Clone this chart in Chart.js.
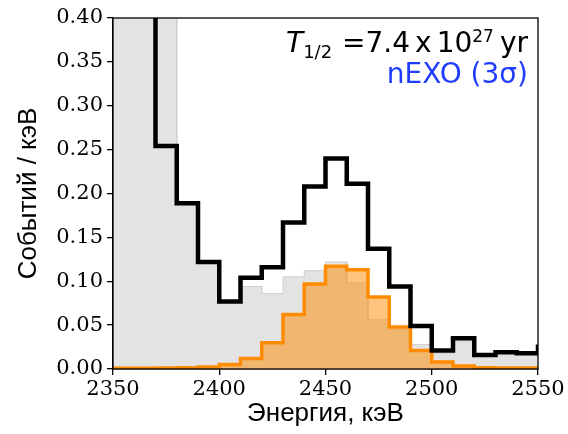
<!DOCTYPE html>
<html lang="ru">
<head>
<meta charset="UTF-8">
<title>Спектр событий</title>
<style>
  body { margin: 0; background: #fff; }
  #wrap { width: 568px; height: 434px; }
</style>
</head>
<body>
<div id="wrap"><canvas id="chart" width="568" height="434"></canvas></div>
<script src="https://cdn.jsdelivr.net/npm/chart.js"></script>
<script>
// границы бинов по 10 кэВ
const edges = [2350, 2360, 2370, 2380, 2390, 2400, 2410, 2420, 2430, 2440, 2450,
               2460, 2470, 2480, 2490, 2500, 2510, 2520, 2530, 2540, 2550, 2560];

// суммарный спектр (фон + сигнал), события / кэВ
const total = [0.9, 0.9, 0.254, 0.189, 0.122, 0.077, 0.104, 0.116, 0.167, 0.208, 0.240,
               0.211, 0.137, 0.094, 0.049, 0.021, 0.035, 0.016, 0.019, 0.018, 0.028];

// фон
const background = [0.6, 0.6, 0.6, 0.189, 0.122, 0.077, 0.094, 0.086, 0.105, 0.112, 0.122,
                    0.098, 0.056, 0.045, 0.028, 0.018, 0.032, 0.015, 0.018, 0.018, 0.018];

// сигнал 0νββ
const signal = [0.0008, 0.0008, 0.001, 0.0015, 0.0022, 0.005, 0.012, 0.030, 0.062, 0.097, 0.117,
                0.113, 0.082, 0.048, 0.021, 0.008, 0.0034, 0.0015, 0.001, 0.001, 0.001];

const yTicks = [0, 0.05, 0.10, 0.15, 0.20, 0.25, 0.30, 0.35, 0.40];
const xTicks = [2350, 2400, 2450, 2500, 2550];

// гистограмма -> ступенчатая линия
function steps(vals) {
  const pts = [];
  vals.forEach((v, i) => {
    pts.push({ x: edges[i], y: v });
    pts.push({ x: edges[i + 1], y: v });
  });
  return pts;
}

// рамка вокруг области графика и подпись
const frameAndLabel = {
  id: 'frameAndLabel',
  afterDatasetsDraw(chart) {
    const { ctx, chartArea: a } = chart;
    ctx.save();
    ctx.strokeStyle = '#000';
    ctx.lineWidth = 1.3;
    ctx.strokeRect(a.left, a.top, a.right - a.left, a.bottom - a.top);

    const big = '28px "DejaVu Sans"';
    const small = '18px "DejaVu Sans"';
    const sup = '17px "DejaVu Sans"';
    // текст, шрифт, сдвиг базовой линии, отступ после
    const parts = [
      { t: 'T', f: 'italic ' + big, dy: 0, gap: 0 },
      { t: '1/2', f: small, dy: 6, gap: 10 },
      { t: '=', f: big, dy: 0, gap: 0 },
      { t: '7.4', f: big, dy: 0, gap: 5 },
      { t: 'x', f: big, dy: 0, gap: 5 },
      { t: '10', f: big, dy: 0, gap: 0 },
      { t: '27', f: sup, dy: -10, gap: 6 },
      { t: 'yr', f: big, dy: 0, gap: 0 }
    ];
    let w = 0;
    parts.forEach(p => { ctx.font = p.f; p.w = ctx.measureText(p.t).width; w += p.w + p.gap; });
    let x = a.right - 10 - w;
    ctx.fillStyle = '#000';
    ctx.textBaseline = 'alphabetic';
    ctx.textAlign = 'left';
    parts.forEach(p => {
      ctx.font = p.f;
      ctx.fillText(p.t, x, 52 + p.dy);
      x += p.w + p.gap;
    });

    ctx.font = '28px "DejaVu Sans"';
    ctx.fillStyle = '#1f3cff';
    ctx.textAlign = 'right';
    ctx.fillText('nEXO (3σ)', a.right - 10, 83);
    ctx.restore();
  }
};

new Chart(document.getElementById('chart'), {
  type: 'line',
  data: {
    datasets: [
      {
        data: steps(total),
        borderColor: '#000',
        borderWidth: 4.5,
        fill: false,
        pointRadius: 0,
        order: 0
      },
      {
        data: steps(signal),
        borderColor: '#ff8c00',
        backgroundColor: 'rgba(255,140,0,0.5)',
        borderWidth: 3.5,
        fill: 'origin',
        pointRadius: 0,
        order: 1
      },
      {
        data: steps(background),
        borderColor: '#cfcfcf',
        backgroundColor: '#e3e3e3',
        borderWidth: 1,
        fill: 'origin',
        pointRadius: 0,
        order: 2
      }
    ]
  },
  options: {
    responsive: false,
    animation: false,
    layout: { padding: { top: 18, right: 30, left: 0, bottom: 0 } },
    plugins: { legend: { display: false }, tooltip: { enabled: false } },
    elements: { line: { tension: 0, borderJoinStyle: 'miter', borderCapStyle: 'butt' } },
    scales: {
      x: {
        type: 'linear',
        min: 2350,
        max: 2550,
        afterBuildTicks: s => { s.ticks = xTicks.map(v => ({ value: v })); },
        afterFit: s => { s.height = 65; },
        ticks: {
          color: '#000',
          font: { family: 'DejaVu Serif', size: 21 },
          padding: 2,
          maxRotation: 0,
          callback: v => String(v)
        },
        grid: { drawOnChartArea: false, color: '#000', tickLength: 6, lineWidth: 1.3 },
        border: { color: '#000', width: 1.3 },
        title: {
          display: true,
          text: 'Энергия, кэВ',
          color: '#000',
          font: { family: 'Liberation Sans', size: 26 },
          padding: { top: 0, bottom: 5 }
        }
      },
      y: {
        min: 0,
        max: 0.4,
        afterBuildTicks: s => { s.ticks = yTicks.map(v => ({ value: v })); },
        afterFit: s => { s.width = 113; },
        ticks: {
          color: '#000',
          font: { family: 'DejaVu Serif', size: 21 },
          padding: 4,
          callback: v => v.toFixed(2)
        },
        grid: { drawOnChartArea: false, color: '#000', tickLength: 6, lineWidth: 1.3 },
        border: { color: '#000', width: 1.3 },
        title: {
          display: true,
          text: 'Событий / кэВ',
          color: '#000',
          font: { family: 'Liberation Sans', size: 26 },
          padding: { top: 13, bottom: 0 }
        }
      }
    }
  },
  plugins: [frameAndLabel]
});
</script>
</body>
</html>
